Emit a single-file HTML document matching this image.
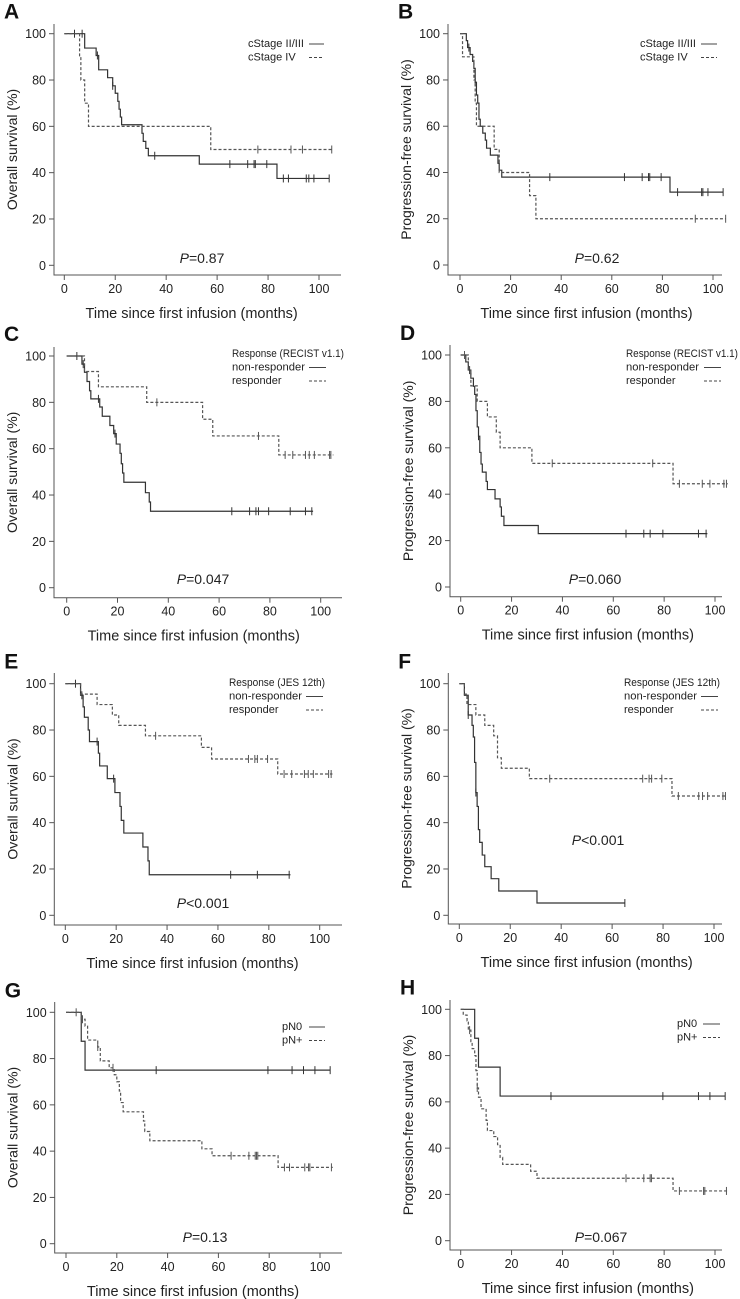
<!DOCTYPE html>
<html><head><meta charset="utf-8">
<style>
html,body{margin:0;padding:0;background:#fff;}
svg{display:block;}
svg text{font-family:"Liberation Sans",Arial,sans-serif;}
</style></head>
<body>
<svg id="fig" width="740" height="1299" viewBox="0 0 740 1299" xmlns="http://www.w3.org/2000/svg"></svg>
<script>
// ---- Data: step times / survival (%) / censor times / end time ----
const A1_t=[8,12.5,13.5,17,19,20,21,21.5,22,22.5,30.5,31,32,33,53,83.5];
const A1_s=[93.8,90.6,84.4,81,77.5,74.3,70.8,67.4,64,60.7,57,53.5,50.5,47.3,43.7,37.5];
const A1_c=[4,7,13,19,35.5,65,72,74.5,75,79.5,86,88,95,96,98,104];
const A2_t=[6,6.5,8,9.5,57.5];
const A2_s=[90,80,70,60,50];
const A2_c=[76,89,93.5,105];
const B1_t=[2.5,3,4,5,5.5,6,6.5,7,7.5,8,9,10,10.5,12,15,15.5,16.5,83];
const B1_s=[97,94,91,88,85,79,73.5,70,63,60,57,54,50.5,47.5,44,41,38,31.5];
const B1_c=[3.5,6,35.5,65,72,74.5,75,79.5,86,95.5,96,98,104];
const B2_t=[1,5.5,6,6.5,13.5,15.5,27.5,30];
const B2_s=[90,80,70,60,50,40,30,20];
const B2_c=[93,105];
const C1_t=[6,7,8,9,9.5,13,14,17,18.5,19.5,21,21.5,22,22.5,31,32.5,33];
const C1_s=[96.5,93,89,85,81.5,78,74,70,66.5,62,58,53.5,49.5,45.5,41,37,33];
const C1_c=[4,6.5,12.5,19,65,72,74.5,75.5,79.5,88,94,96.5];
const C2_t=[7,12.5,31.5,53.5,57.5,83.5];
const C2_s=[93.3,86.7,80,72.7,65.5,57.3];
const C2_c=[35.5,75.5,86,89,94,95.5,97.5,103.5,104];
const D1_t=[2,3,4,5,5.5,6,6.5,7,7.5,8,8.5,10,10.5,13.5,15.5,16,17,30.5];
const D1_s=[97,93.5,90,86.5,83,76,69,65,58,53,49.5,45.5,42,38,34.5,30.5,26.5,23];
const D1_c=[3.5,7,65,72,74.5,79.5,93.5,96.5];
const D2_t=[3,4,6.5,10.5,14,15.5,28,83.5];
const D2_s=[93.3,86.7,80,73.3,66.7,60,53.3,44.5];
const D2_c=[1.5,36,75.5,86,95,98,103.5,104.5];
const E1_t=[6,7,7.5,9,9.5,13,13.5,16.5,19.5,21.5,22,23,30.5,32.5,33];
const E1_s=[95,90,85.5,80,75,70,64.5,59,53,47,41,35.5,29.5,23.5,17.5];
const E1_c=[4,6.5,12.5,19,65,75.5,88];
const E2_t=[6,12.5,18.5,21,31.5,53.5,57.5,83.5];
const E2_s=[95.5,91,86.5,82,77.5,72.5,67.5,61];
const E2_c=[35.5,72,74.5,75.5,79.5,86,89,94,95.5,97.5,103.5,104.5];
const F1_t=[2,3.5,5,5.5,6,6.5,7,7.5,8,9,10,12.5,15.5,30.5];
const F1_s=[95,86.5,82,77,66,53,47,37,31.5,26,21,15.8,10.5,5.3];
const F1_c=[3.5,6.5,65];
const F2_t=[2,3,6.5,10,13.5,15,16.5,27.5,83.5];
const F2_s=[95.5,91,86.5,82,77.5,68,63.5,59,51.5];
const F2_c=[35.5,72,74.5,75.5,79.5,86,94,95.5,97.5,103.5,104.5];
const G1_t=[6,7.5];
const G1_s=[87.5,75];
const G1_c=[35.5,79.5,89,93.5,98,104];
const G2_t=[6,7.5,8.5,12.5,13.5,17,19,20,21,21.5,22.5,30.5,31,33,53.5,57.5,83.5];
const G2_s=[97,94,88,85,79,76,73,70,66,61,57,53,48.5,44.5,41,38,33];
const G2_c=[4,6.5,12.5,18.5,65,72,74.5,75,75.5,86,88,94,95.5,96,104.5];
const H1_t=[5.5,7,15.5];
const H1_s=[87.5,75,62.5];
const H1_c=[35.5,79.5,93.5,98,104];
const H2_t=[1,2.5,3,4,4.5,5.5,6,6.5,7,8,10,10.5,13,14.5,15.5,16.5,27.5,30,83.5];
const H2_s=[97.5,95,91,86,83,80,73.5,66,62,57,52,47.6,45,41.5,36,33,30,27,21.5];
const H2_c=[3.5,6.5,65,72,74.5,75,86,95.5,96,104.5];
const xTicks=[0,20,40,60,80,100];
const yTicks=[0,20,40,60,80,100];

const NS='http://www.w3.org/2000/svg';
const svg=document.getElementById('fig');
function mk(tag,attrs,parent){const e=document.createElementNS(NS,tag);for(const k in attrs)e.setAttribute(k,attrs[k]);(parent||svg).appendChild(e);return e;}

const panels=[
 {id:'a',L:'A',x0:64.3,x100:319,y100:33.7,y0:265.3,axL:54,axB:275,axR:341,axT:24,yt:'Overall survival (%)',p:'=0.87',px:202,py:263,
  s1:[A1_t,A1_s,A1_c,104],s2:[A2_t,A2_s,A2_c,105],leg:{x:248,y:47,w:56,lx1:309,lx2:324,head:null,n1:'cStage II/III',n2:'cStage IV'}},
 {id:'b',L:'B',x0:460,x100:713,y100:33.7,y0:265,axL:448,axB:275,axR:722,axT:24,yt:'Progression-free survival (%)',p:'=0.62',px:597,py:263,
  s1:[B1_t,B1_s,B1_c,104],s2:[B2_t,B2_s,B2_c,105],leg:{x:640,y:47,w:56,lx1:701,lx2:717,head:null,n1:'cStage II/III',n2:'cStage IV'}},
 {id:'c',L:'C',x0:66.7,x100:320.7,y100:356,y0:587.7,axL:54,axB:597.7,axR:342,axT:347,yt:'Overall survival (%)',p:'=0.047',px:203,py:584,
  s1:[C1_t,C1_s,C1_c,97],s2:[C2_t,C2_s,C2_c,105],leg:{x:232,y:357,hw:112,w:73,lx1:309,lx2:326,head:'Response (RECIST v1.1)',n1:'non-responder',n2:'responder'}},
 {id:'d',L:'D',x0:460.7,x100:715,y100:355,y0:587,axL:450,axB:596.7,axR:722,axT:345,yt:'Progression-free survival (%)',p:'=0.060',px:595,py:584,
  s1:[D1_t,D1_s,D1_c,97],s2:[D2_t,D2_s,D2_c,105],leg:{x:626,y:357,hw:112,w:73,lx1:704,lx2:721,head:'Response (RECIST v1.1)',n1:'non-responder',n2:'responder'}},
 {id:'e',L:'E',x0:65.3,x100:319.7,y100:683.7,y0:915.3,axL:54.3,axB:925,axR:342,axT:673,yt:'Overall survival (%)',p:'<0.001',px:203,py:908,
  s1:[E1_t,E1_s,E1_c,88.5],s2:[E2_t,E2_s,E2_c,105],leg:{x:229,y:686,hw:96,w:73,lx1:306,lx2:323,head:'Response (JES 12th)',n1:'non-responder',n2:'responder'}},
 {id:'f',L:'F',x0:459.3,x100:714,y100:683.7,y0:915.3,axL:448.3,axB:924,axR:722,axT:673,yt:'Progression-free survival (%)',p:'<0.001',px:598,py:845,
  s1:[F1_t,F1_s,F1_c,65],s2:[F2_t,F2_s,F2_c,105],leg:{x:624,y:686,hw:96,w:73,lx1:701,lx2:718,head:'Response (JES 12th)',n1:'non-responder',n2:'responder'}},
 {id:'g',L:'G',x0:66,x100:320,y100:1012.3,y0:1243.7,axL:54.7,axB:1253,axR:342,axT:1002,yt:'Overall survival (%)',p:'=0.13',px:205,py:1242,
  s1:[G1_t,G1_s,G1_c,104],s2:[G2_t,G2_s,G2_c,105],leg:{x:282,y:1030,w:null,lx1:309,lx2:325,head:null,n1:'pN0',n2:'pN+'}},
 {id:'h',L:'H',x0:460.7,x100:715,y100:1009.3,y0:1240.7,axL:450,axB:1250,axR:722,axT:1000,yt:'Progression-free survival (%)',p:'=0.067',px:601,py:1242,
  s1:[H1_t,H1_s,H1_c,104],s2:[H2_t,H2_s,H2_c,105],leg:{x:677,y:1027,w:null,lx1:703,lx2:720,head:null,n1:'pN0',n2:'pN+'}}
];

function survAt(t,ts,ss){let v=100;for(let i=0;i<ts.length;i++){if(ts[i]<=t)v=ss[i];}return v;}

panels.forEach(P=>{
  const g=mk('g',{});
  
  
  const X=t=>P.x0+(P.x100-P.x0)*t/100;
  const Y=s=>P.y0-(P.y0-P.y100)*s/100;
  const lbl=mk('text',{x:P.axL-50,y:P.y100-15,'font-size':21,'font-weight':'bold',fill:'#111'},g);
  lbl.textContent=P.L;
  
  
  const ax=mk('path',{d:`M${P.axL},${P.axT}V${P.axB}H${P.axR}`,stroke:'#555',fill:'none','stroke-width':1},g);
  
  
  yTicks.forEach(v=>{
    mk('line',{x1:P.axL-5,x2:P.axL,y1:Y(v),y2:Y(v),stroke:'#555'},g);
    const t=mk('text',{x:P.axL-8,y:Y(v)+4.5,'font-size':12.5,'text-anchor':'end',fill:'#222'},g);
    t.textContent=v;
    
    
  });
  xTicks.forEach(v=>{
    mk('line',{x1:X(v),x2:X(v),y1:P.axB,y2:P.axB+5,stroke:'#555'},g);
    const t=mk('text',{x:X(v),y:P.axB+18,'font-size':12.5,'text-anchor':'middle',fill:'#222'},g);
    t.textContent=v;
    
    
  });
  const xt=mk('text',{x:(P.x0+P.x100)/2,y:P.axB+43,'font-size':14.5,'text-anchor':'middle',fill:'#222'},g);
  xt.textContent='Time since first infusion (months)';
  
  
  const yc=(P.axT+P.axB)/2, yx=P.axL-37;
  const yt=mk('text',{x:yx,y:yc,'font-size':14,'text-anchor':'middle',fill:'#222',transform:`rotate(-90 ${yx} ${yc})`},g);
  yt.textContent=P.yt;
  
  
  [[P.s1,null,'#333','solid'],[P.s2,'3,2','#555','dashed']].forEach(([S,dash,col,nm])=>{
    const [ts,ss,cs,end]=S;
    let d=`M${X(0)},${Y(100)}`;
    for(let i=0;i<ts.length;i++){d+=`H${X(ts[i])}V${Y(ss[i])}`;}
    d+=`H${X(end)}`;
    const a={d:d,stroke:col,fill:'none','stroke-width':1.2};
    if(dash)a['stroke-dasharray']=dash;
    const p=mk('path',a,g);
    
    
    cs.forEach(c=>{
      const yy=Y(survAt(c,ts,ss));
      const m=mk('line',{x1:X(c),x2:X(c),y1:yy-4,y2:yy+4,stroke:col,'stroke-width':1},g);
      
      
    });
  });
  const Lg=P.leg;
  let y=Lg.y;
  if(Lg.head){
    const h=mk('text',{x:Lg.x,y:y,'font-size':11,fill:'#222',textLength:Lg.hw,lengthAdjust:'spacingAndGlyphs'},g);
    h.textContent=Lg.head;
    
    
    y+=13.5;
  }
  [[Lg.n1,null,Lg.w],[Lg.n2,'3,2',null]].forEach(([n,dash,w])=>{
    const at={x:Lg.x,y:y,'font-size':11,fill:'#222'};
    if(w){at.textLength=w;at.lengthAdjust='spacingAndGlyphs';}
    const t=mk('text',at,g);
    t.textContent=n;
    
    
    const a={x1:Lg.lx1,x2:Lg.lx2,y1:y-3,y2:y-3,stroke:'#444','stroke-width':1};
    if(dash)a['stroke-dasharray']=dash;
    mk('line',a,g);
    y+=13.5;
  });
  const pt=mk('text',{x:P.px,y:P.py,'font-size':14,'text-anchor':'middle',fill:'#222'},g);
  
  
  const ti=mk('tspan',{'font-style':'italic'},pt);ti.textContent='P';
  const tv=mk('tspan',{},pt);tv.textContent=P.p;
});
</script>
</body></html>
